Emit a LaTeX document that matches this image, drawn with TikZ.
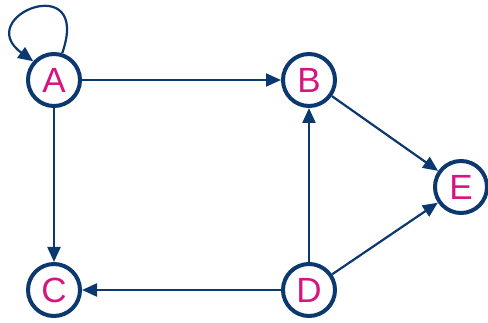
\documentclass[tikz,border=0pt]{standalone}
\usepackage{fontspec}
\setmainfont{Liberation Sans}
\usetikzlibrary{arrows.meta}
\definecolor{navy}{RGB}{12,56,112}
\definecolor{mag}{RGB}{214,22,128}
\begin{document}
\begin{tikzpicture}[x=1pt,y=-1pt,
  vert/.style={circle,draw=navy,line width=4pt,fill=white,minimum size=52pt,inner sep=0pt,
    text=mag,font=\fontsize{35}{35}\selectfont},
  edge/.style={draw=navy,line width=2.2pt,-{Triangle[length=15pt,width=13pt]}}]
\useasboundingbox (0,0) rectangle (488,323);
\node[vert] (A) at (54,80) {A};
\node[vert] (B) at (309,80) {B};
\node[vert] (C) at (54,290) {C};
\node[vert] (D) at (309,290) {D};
\node[vert] (E) at (461,187) {E};
\draw[edge] (A) -- (B);
\draw[edge] (A) -- (C);
\draw[edge] (D) -- (B);
\draw[edge] (D) -- (C);
\draw[edge] (B) -- (E);
\draw[edge] (D) -- (E);
\draw[edge] (A.73) .. controls +(30,-85) and +(-62,-45) .. (A.138);
\end{tikzpicture}
\end{document}
